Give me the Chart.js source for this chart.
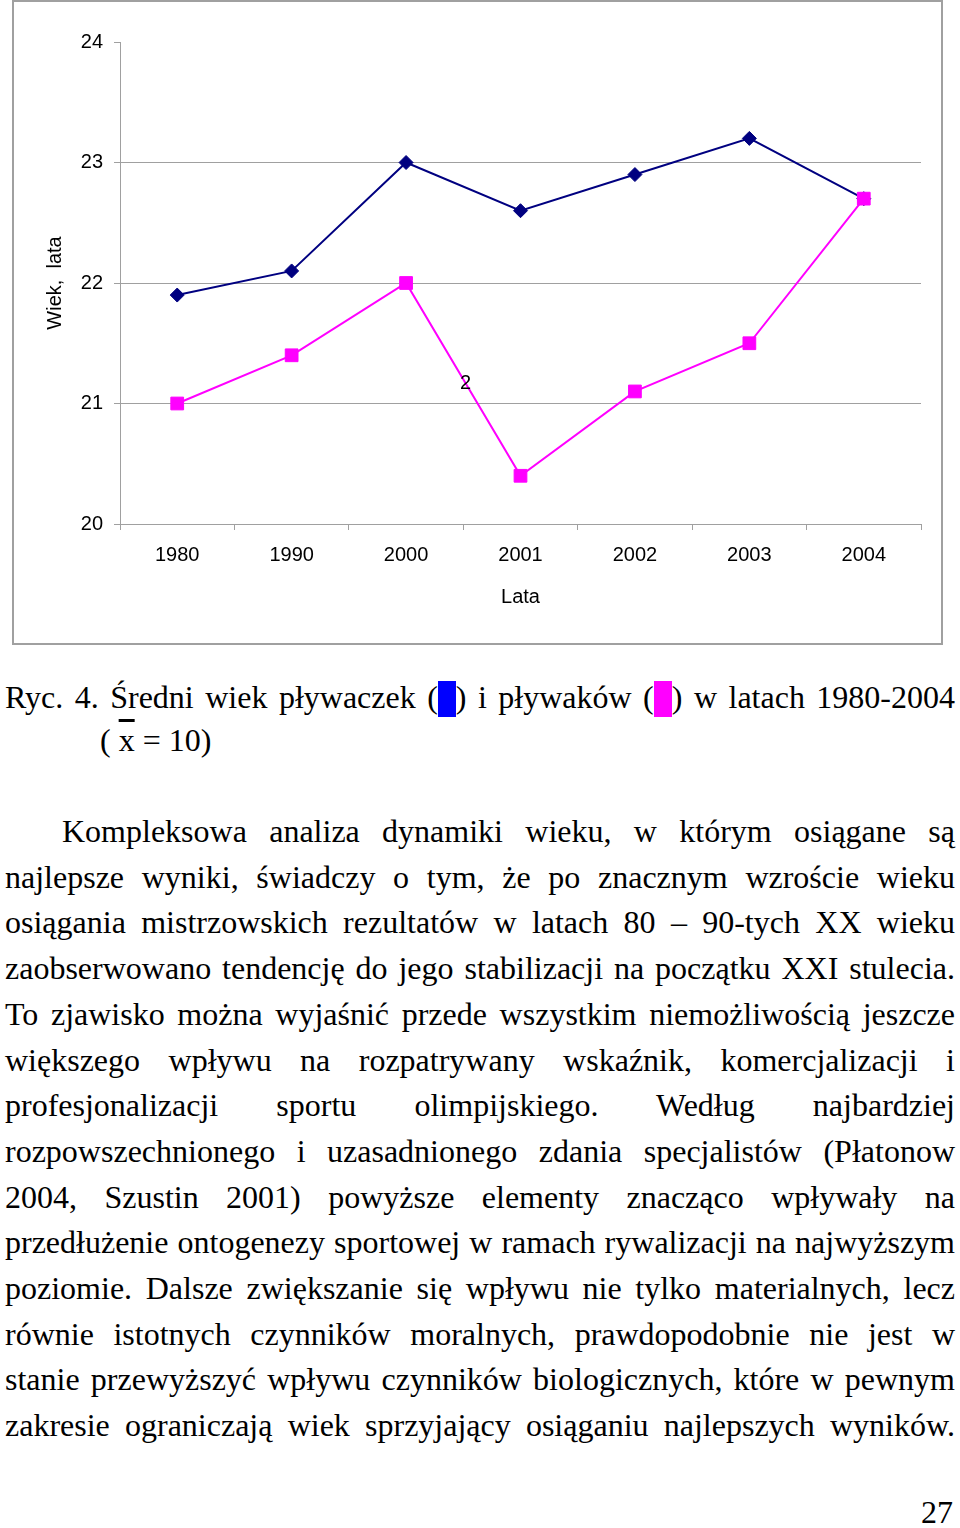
<!DOCTYPE html>
<html>
<head>
<meta charset="utf-8">
<script src="https://cdn.jsdelivr.net/npm/chart.js@4"></script>
<style>
  body { margin: 0; background: #fff; width: 960px; height: 1528px; position: relative; overflow: hidden; }
  #box { position: absolute; left: 12px; top: 0; width: 931px; height: 645px; border: 2px solid #a0a0a0; box-sizing: border-box; }
  #chart { position: absolute; left: 0; top: 0; }
  .txt { position: absolute; font-family: "Liberation Serif", "Times New Roman", serif; font-size: 32px; color: #000; white-space: nowrap; }
  .j { text-align: justify; text-align-last: justify; }
  .sq { display: inline-block; width: 18px; height: 36px; vertical-align: -9px; }
  .ov { text-decoration: overline; }
</style>
</head>
<body>
<div id="box"><canvas id="chart" width="927" height="641"></canvas></div>

<div class="txt j" style="left:5px; top:679px; width:950px; line-height:36px;">Ryc. 4. Średni wiek pływaczek (<span class="sq" style="background:#0000ff"></span>) i pływaków (<span class="sq" style="background:#ff00ff"></span>) w latach 1980-2004</div>
<div class="txt" style="left:100px; top:722px; line-height:36px;">( <span class="ov">x</span> = 10)</div>

<div id="para"></div>
<div class="txt" style="left:921px; top:1494px; line-height:36px;">27</div>

<script>
// chart data
const years = ['1980', '1990', '2000', '2001', '2002', '2003', '2004'];
const womenAge = [21.9, 22.1, 23.0, 22.6, 22.9, 23.2, 22.7];   // pływaczki
const menAge = [21.0, 21.4, 22.0, 20.4, 21.1, 21.5, 22.7];     // pływacy
const yTicks = [20, 21, 22, 23, 24];

// text lines below the chart
const paraLines = [
  'Kompleksowa analiza dynamiki wieku, w którym osiągane są',
  'najlepsze wyniki, świadczy o tym, że po znacznym wzroście wieku',
  'osiągania mistrzowskich rezultatów w latach 80 – 90-tych XX wieku',
  'zaobserwowano tendencję do jego stabilizacji na początku XXI stulecia.',
  'To zjawisko można wyjaśnić przede wszystkim niemożliwością jeszcze',
  'większego wpływu na rozpatrywany wskaźnik, komercjalizacji i',
  'profesjonalizacji sportu olimpijskiego. Według najbardziej',
  'rozpowszechnionego i uzasadnionego zdania specjalistów (Płatonow',
  '2004, Szustin 2001) powyższe elementy znacząco wpływały na',
  'przedłużenie ontogenezy sportowej w ramach rywalizacji na najwyższym',
  'poziomie. Dalsze zwiększanie się wpływu nie tylko materialnych, lecz',
  'równie istotnych czynników moralnych, prawdopodobnie nie jest w',
  'stanie przewyższyć wpływu czynników biologicznych, które w pewnym',
  'zakresie ograniczają wiek sprzyjający osiąganiu najlepszych wyników.'
];

const para = document.getElementById('para');
paraLines.forEach((line, i) => {
  const d = document.createElement('div');
  d.className = 'txt j';
  const left = i === 0 ? 62 : 5;
  d.style.left = left + 'px';
  d.style.width = (955 - left) + 'px';
  d.style.top = (808 + i * 45.7) + 'px';
  d.style.lineHeight = '46px';
  d.textContent = line;
  para.appendChild(d);
});

const GRAY = '#a0a0a0';
const AXIS_FONT = { family: 'Liberation Sans, Arial, sans-serif', size: 20 };

// stray "2" left over in the original picture
const strayLabel = {
  id: 'strayLabel',
  afterDatasetsDraw(chart) {
    const { ctx, scales: { x, y } } = chart;
    ctx.save();
    ctx.font = '20px Liberation Sans, Arial, sans-serif';
    ctx.fillStyle = '#000';
    ctx.textAlign = 'center';
    ctx.textBaseline = 'middle';
    ctx.fillText('2', x.getPixelForValue(2.52), y.getPixelForValue(21.17));
    ctx.restore();
  }
};

new Chart(document.getElementById('chart'), {
  type: 'line',
  data: {
    labels: years,
    datasets: [
      {
        label: 'pływaczki',
        data: womenAge,
        borderColor: '#000080',
        backgroundColor: '#000080',
        borderWidth: 2,
        pointStyle: 'rectRot',
        pointRadius: 7,
        pointBorderWidth: 1,
        tension: 0,
        order: 2
      },
      {
        label: 'pływacy',
        data: menAge,
        borderColor: '#ff00ff',
        backgroundColor: '#ff00ff',
        borderWidth: 2,
        pointStyle: 'rect',
        pointRadius: 9,
        pointBorderWidth: 1,
        tension: 0,
        order: 1
      }
    ]
  },
  options: {
    responsive: false,
    animation: false,
    layout: { padding: { top: 40, right: 20, left: 0, bottom: 0 } },
    plugins: { legend: { display: false }, tooltip: { enabled: false } },
    scales: {
      x: {
        offset: true,
        afterFit: s => { s.height = 119; },
        grid: { offset: true, drawOnChartArea: false, tickLength: 6, color: GRAY },
        border: { color: GRAY, width: 1 },
        ticks: { color: '#000', font: AXIS_FONT, padding: 13, maxRotation: 0 },
        title: { display: true, text: 'Lata', color: '#000', font: AXIS_FONT, padding: { bottom: 34 } }
      },
      y: {
        min: 20,
        max: 24,
        afterFit: s => { s.width = 106; },
        afterBuildTicks: s => { s.ticks = yTicks.map(v => ({ value: v })); },
        grid: {
          tickLength: 6,
          color: c => (c.tick && c.tick.value === 24 ? 'rgba(0,0,0,0)' : GRAY),
          tickColor: GRAY
        },
        border: { color: GRAY, width: 1 },
        ticks: { color: '#000', font: AXIS_FONT, padding: 11 },
        title: { display: true, text: 'Wiek,  lata', color: '#000', font: AXIS_FONT, padding: { top: 29 } }
      }
    }
  },
  plugins: [strayLabel]
});
</script>
</body>
</html>
